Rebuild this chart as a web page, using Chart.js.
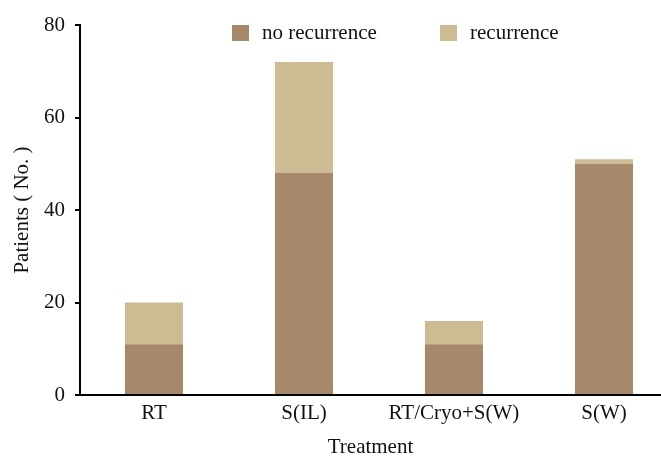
<html>
<head>
    <title>Patients by treatment</title>
    <script src="https://cdn.jsdelivr.net/npm/chart.js"></script>
</head>
<style>
    body{
        margin: 0;
        background: #fff;
    }
</style>
<body>
<canvas id="chartCanvas" width="661" height="458"></canvas>
</body>

<script>
// data
const treatments = ['RT', 'S(IL)', 'RT/Cryo+S(W)', 'S(W)'];
const noRecurrence = [11, 48, 11, 50];
const recurrence = [9, 24, 5, 1];
const yTicks = [0, 20, 40, 60, 80];

const darkBrown = '#a6886a';
const lightTan = '#cdbb94';

Chart.defaults.font.family = "'Liberation Serif', 'Times New Roman', serif";
Chart.defaults.font.size = 21;
Chart.defaults.color = '#111';

// legend drawn by hand so it can sit inside the plot area like the original
const legendPlugin = {
    id: 'insideLegend',
    afterDraw(chart) {
        const ctx = chart.ctx;
        const spots = [232, 440];
        ctx.save();
        ctx.font = "21px 'Liberation Serif', serif";
        ctx.textBaseline = 'middle';
        chart.data.datasets.forEach((ds, i) => {
            ctx.fillStyle = ds.backgroundColor;
            ctx.fillRect(spots[i], 25, 17, 16);
            ctx.fillStyle = '#111';
            ctx.fillText(ds.label, spots[i] + 30, 33);
        });
        ctx.restore();
    }
};

const chartCanvas = document.getElementById('chartCanvas');
new Chart(chartCanvas, {
    type: 'bar',
    data: {
        datasets: [
            {
                label: 'no recurrence',
                data: noRecurrence.map((v, i) => ({x: i, y: v})),
                backgroundColor: darkBrown
            },
            {
                label: 'recurrence',
                data: recurrence.map((v, i) => ({x: i, y: v})),
                backgroundColor: lightTan
            }
        ]
    },
    options: {
        responsive: false,
        animation: false,
        layout: {
            padding: {top: 25, right: 0, bottom: 0, left: 0}
        },
        datasets: {
            bar: {
                barPercentage: 0.387,
                categoryPercentage: 1
            }
        },
        plugins: {
            legend: {display: false},
            tooltip: {enabled: false}
        },
        scales: {
            x: {
                type: 'linear',
                stacked: true,
                offset: false,
                min: -0.493,
                max: 3.38,
                afterBuildTicks: (scale) => {
                    scale.ticks = treatments.map((t, i) => ({value: i}));
                },
                afterFit: (scale) => {
                    scale.height = 63;
                },
                ticks: {
                    padding: 6,
                    color: '#111',
                    callback: (value) => treatments[value]
                },
                grid: {display: false, drawTicks: false, offset: false},
                border: {display: true, color: '#000', width: 2},
                title: {
                    display: true,
                    text: 'Treatment',
                    color: '#111',
                    font: {lineHeight: 1},
                    padding: {top: 0, bottom: 0}
                }
            },
            y: {
                stacked: true,
                min: 0,
                max: 80,
                afterBuildTicks: (scale) => {
                    scale.ticks = yTicks.map(v => ({value: v}));
                },
                afterFit: (scale) => {
                    scale.width = 80;
                },
                ticks: {
                    padding: 10,
                    color: '#111'
                },
                grid: {
                    drawOnChartArea: false,
                    drawTicks: true,
                    tickLength: 5,
                    lineWidth: 2,
                    color: '#000'
                },
                border: {display: true, color: '#000', width: 2},
                title: {
                    display: true,
                    text: 'Patients ( No. )',
                    color: '#111',
                    padding: {top: 10, bottom: 0}
                }
            }
        }
    },
    plugins: [legendPlugin]
});
</script>
</html>
